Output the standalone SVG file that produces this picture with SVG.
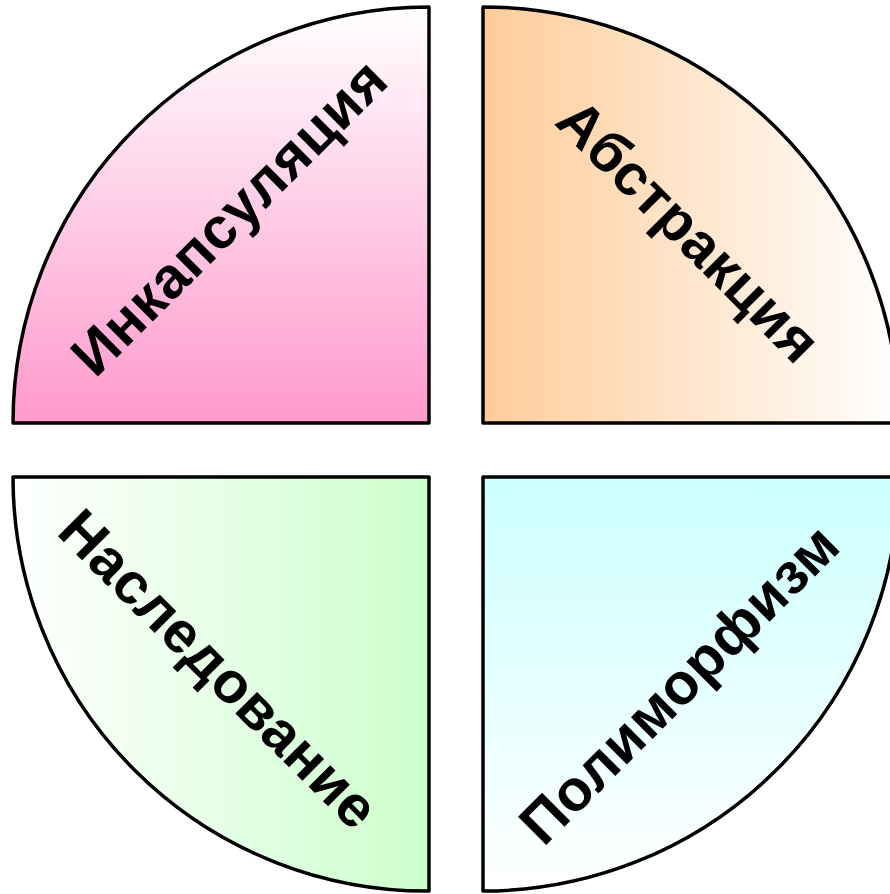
<svg xmlns="http://www.w3.org/2000/svg" width="890" height="894" viewBox="0 0 890 894">
<defs>
<linearGradient id="gPink" x1="0" y1="0" x2="0" y2="1"><stop offset="0" stop-color="#ffffff"/><stop offset="1" stop-color="#ff99cc"/></linearGradient>
<linearGradient id="gPeach" x1="0" y1="0" x2="1" y2="0"><stop offset="0" stop-color="#ffcc99"/><stop offset="1" stop-color="#ffffff"/></linearGradient>
<linearGradient id="gGreen" x1="0" y1="0" x2="1" y2="0"><stop offset="0" stop-color="#ffffff"/><stop offset="1" stop-color="#ccffcc"/></linearGradient>
<linearGradient id="gCyan" x1="0" y1="0" x2="0" y2="1"><stop offset="0" stop-color="#ccffff"/><stop offset="1" stop-color="#ffffff"/></linearGradient>
</defs>
<style>
.q{stroke:#000;stroke-width:3.5;stroke-linejoin:round}
.t{font-family:"Liberation Sans",Arial,sans-serif;font-weight:bold;font-size:58px;letter-spacing:0.5px;fill:#000;text-anchor:middle}
</style>
<rect width="890" height="894" fill="#fff"/>
<g id="encapsulation">
<path class="q" fill="url(#gPink)" d="M429,423 L13,423 A416,416 0 0 1 429,7 Z"/>
<text class="t" transform="translate(229,217) rotate(-45)" x="0" y="20">Инкапсуляция</text>
</g>
<g id="abstraction">
<path class="q" fill="url(#gPeach)" d="M483,423 L483,7 A416,416 0 0 1 899,423 Z"/>
<text class="t" transform="translate(689,231) rotate(45)" x="0" y="20">Абстракция</text>
</g>
<g id="inheritance">
<path class="q" fill="url(#gGreen)" d="M429,477 L429,891 A414,414 0 0 1 13,477 Z"/>
<text class="t" transform="translate(219,669) rotate(45)" x="0" y="20">Наследование</text>
</g>
<g id="polymorphism">
<path class="q" fill="url(#gCyan)" d="M483,477 L899,477 A416,416 0 0 1 483,891 Z"/>
<text class="t" transform="translate(679,684) rotate(-45)" x="0" y="20">Полиморфизм</text>
</g>
<g id="connectors"/>
</svg>
